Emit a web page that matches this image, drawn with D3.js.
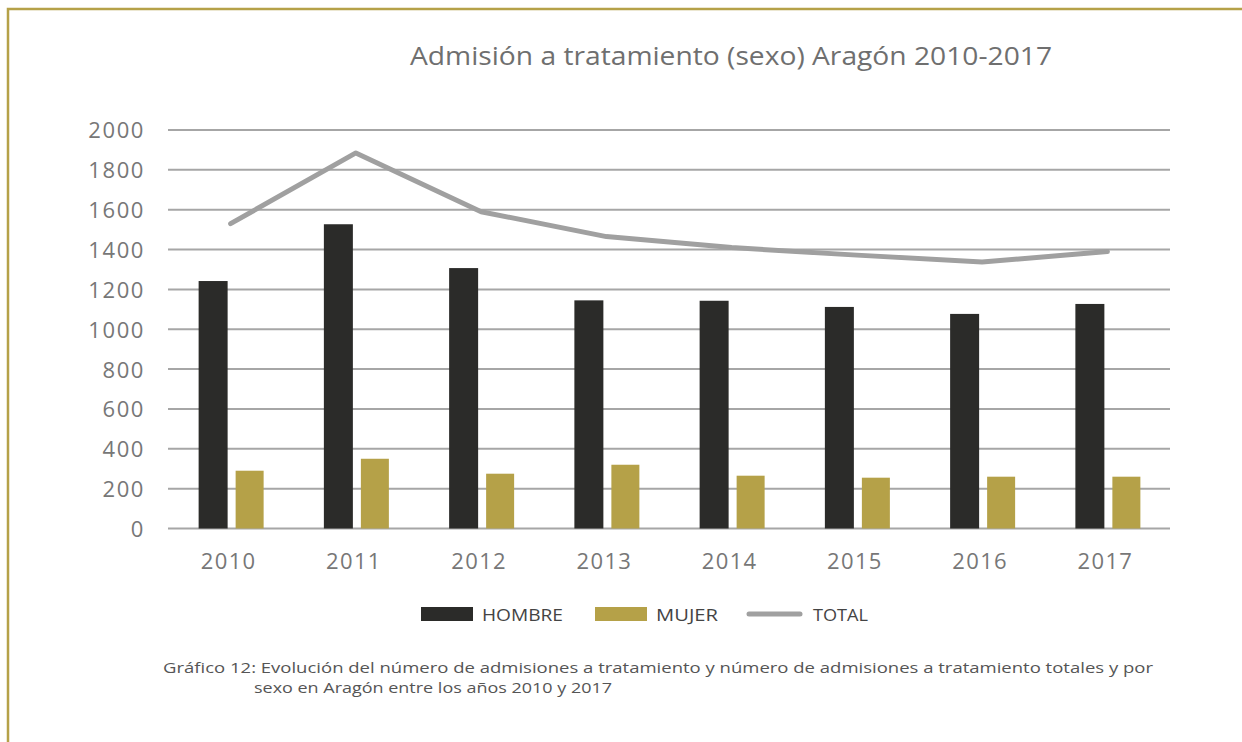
<!DOCTYPE html>
<html>
<head>
<meta charset="utf-8">
<script src="https://cdn.jsdelivr.net/npm/d3@7"></script>
<style>
  body { margin: 0; background: #fff; }
  svg text { font-family: "Open Sans", "Noto Sans", sans-serif; }
</style>
</head>
<body>
<script>
// datos
var YEARS = ["2010", "2011", "2012", "2013", "2014", "2015", "2016", "2017"];
var HOMBRE = [1242, 1527, 1307, 1145, 1143, 1112, 1077, 1127];
var MUJER = [290, 350, 275, 320, 265, 255, 260, 260];
var TOTAL = [1530, 1885, 1590, 1465, 1410, 1372, 1337, 1390];
var Y_TICKS = [0, 200, 400, 600, 800, 1000, 1200, 1400, 1600, 1800, 2000];

var w = 1242, h = 742;
var margin = { left: 168, right: 72, top: 130, bottom: 213 };

var cHombre = "#2b2b29", cMujer = "#b5a148", cTotal = "#a0a0a0", cGrid = "#a6a6a6";

var svg = d3.select("body").append("svg").attr("width", w).attr("height", h);

// marco dorado
svg.append("path")
  .attr("d", "M8,742 L8,9 L1242,9")
  .attr("fill", "none").attr("stroke", cMujer).attr("stroke-width", 2.5);

svg.append("text").attr("x", 731).attr("y", 65).attr("text-anchor", "middle")
  .attr("fill", "#6f6f6f").style("font-size", "25px")
  .attr("textLength", 642).attr("lengthAdjust", "spacingAndGlyphs")
  .text("Admisión a tratamiento (sexo) Aragón 2010-2017");

var x = d3.scaleBand().domain(YEARS).range([margin.left, w - margin.right]);
var y = d3.scaleLinear().domain([0, 2000]).range([h - margin.bottom - 0.5, margin.top]);

// rejilla
svg.append("g").selectAll("line").data(Y_TICKS).enter().append("line")
  .attr("x1", margin.left).attr("x2", w - margin.right)
  .attr("y1", function (d) { return y(d); }).attr("y2", function (d) { return y(d); })
  .attr("stroke", cGrid).attr("stroke-width", 2);

var yAxis = svg.append("g").attr("transform", "translate(" + (margin.left - 23) + ",0)")
  .call(d3.axisLeft(y).tickValues(Y_TICKS).tickFormat(d3.format("d")).tickSize(0).tickPadding(0));
yAxis.select(".domain").remove();
yAxis.selectAll("text").attr("fill", "#777").style("font-size", "22px")
  .style("letter-spacing", "1.6px").attr("dy", "0.36em");

var xAxis = svg.append("g").attr("transform", "translate(0," + (h - margin.bottom) + ")")
  .call(d3.axisBottom(x).tickSize(0).tickPadding(24));
xAxis.select(".domain").remove();
xAxis.selectAll("text").attr("fill", "#777").style("font-size", "22px")
  .style("letter-spacing", "1.4px").attr("dx", "-2");

var bw = 29, gap = 8;
svg.append("g").selectAll("rect").data(HOMBRE).enter().append("rect")
  .attr("x", function (d, i) { return x(YEARS[i]) + x.bandwidth() / 2 - bw - gap / 2 + 1; })
  .attr("y", function (d) { return y(d); })
  .attr("width", bw).attr("height", function (d) { return y(0) - y(d); })
  .attr("fill", cHombre);

svg.append("g").selectAll("rect").data(MUJER).enter().append("rect")
  .attr("x", function (d, i) { return x(YEARS[i]) + x.bandwidth() / 2 + gap / 2 + 1; })
  .attr("y", function (d) { return y(d); })
  .attr("width", bw - 1).attr("height", function (d) { return y(0) - y(d); })
  .attr("fill", cMujer);

var line = d3.line()
  .x(function (d, i) { return x(YEARS[i]) + x.bandwidth() / 2; })
  .y(function (d) { return y(d); });
svg.append("path").datum(TOTAL).attr("d", line)
  .attr("fill", "none").attr("stroke", cTotal).attr("stroke-width", 5)
  .attr("stroke-linecap", "round").attr("stroke-linejoin", "round");

// leyenda
var leg = svg.append("g");
leg.append("rect").attr("x", 421).attr("y", 607).attr("width", 52).attr("height", 14).attr("fill", cHombre);
leg.append("text").attr("x", 482).attr("y", 621).attr("textLength", 81).text("HOMBRE");
leg.append("rect").attr("x", 595).attr("y", 607).attr("width", 52).attr("height", 14).attr("fill", cMujer);
leg.append("text").attr("x", 656).attr("y", 621).attr("textLength", 62).text("MUJER");
leg.append("line").attr("x1", 749).attr("x2", 800).attr("y1", 614).attr("y2", 614)
  .attr("stroke", cTotal).attr("stroke-width", 5).attr("stroke-linecap", "round");
leg.append("text").attr("x", 813).attr("y", 621).attr("textLength", 55).text("TOTAL");
leg.selectAll("text").attr("fill", "#444").style("font-size", "16px")
  .attr("lengthAdjust", "spacingAndGlyphs");

// pie
svg.append("text").attr("x", 163).attr("y", 673).attr("fill", "#555").style("font-size", "15px")
  .attr("textLength", 990).attr("lengthAdjust", "spacingAndGlyphs")
  .text("Gráfico 12: Evolución del número de admisiones a tratamiento y número de admisiones a tratamiento totales y por");
svg.append("text").attr("x", 254).attr("y", 693).attr("fill", "#555").style("font-size", "15px")
  .attr("textLength", 358).attr("lengthAdjust", "spacingAndGlyphs")
  .text("sexo en Aragón entre los años 2010 y 2017");
</script>
</body>
</html>
